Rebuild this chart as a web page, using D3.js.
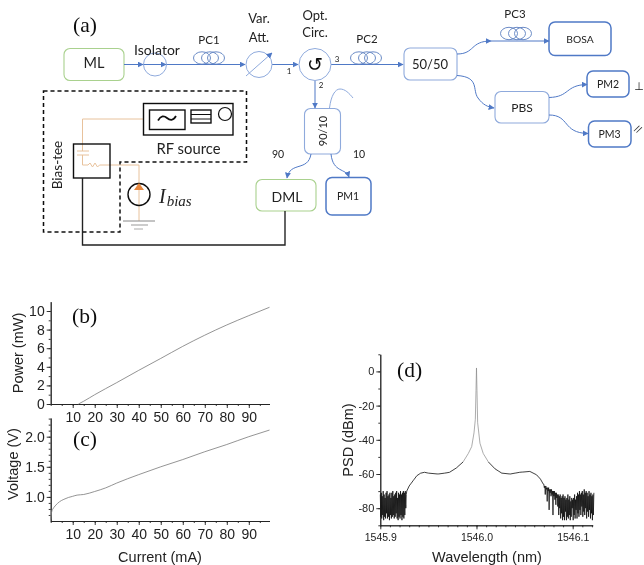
<!DOCTYPE html>
<html>
<head>
<meta charset="utf-8">
<script src="https://cdn.jsdelivr.net/npm/d3@7"></script>
<style>
  html, body { margin: 0; padding: 0; background: #fff; }
  text { fill: #222; }
  .diagram text { font-family: Lato, "Open Sans", sans-serif; }
  .panel-label { font-family: "Liberation Serif", serif; font-size: 21.5px; fill: #111; }
  .chart text { font-family: "Liberation Sans", Arial, sans-serif; }
</style>
</head>
<body>
<svg id="screen" width="644" height="565"></svg>
<script>
// (b) and (c)
const powerCurrent = [12.6, 15, 20, 30, 40, 50, 60, 70, 80, 90, 99.4];
const powerValues = [0, 0.3, 1.0, 2.3, 3.62, 4.9, 6.2, 7.4, 8.5, 9.5, 10.4];
const voltageCurrent = [0, 0.2, 0.5, 1, 2, 4, 6, 8, 10, 12, 15, 20, 25, 30, 40, 50, 60, 70, 80, 90, 99.4];
const voltageValues = [0.62, 0.7, 0.76, 0.8, 0.85, 0.92, 0.96, 0.99, 1.01, 1.03, 1.04, 1.09, 1.15, 1.23, 1.37, 1.5, 1.62, 1.75, 1.87, 2.0, 2.11];
const currentTicks = [10, 20, 30, 40, 50, 60, 70, 80, 90];
const powerTicks = [0, 2, 4, 6, 8, 10];
const voltageTicks = [1.0, 1.5, 2.0];

// (d) noisy wings, sampled every 0.0005 nm
const wingStep = 0.0005;
const leftWingStart = 1545.9;
const leftWing = [-72, -85, -71, -86, -73, -84, -70, -87, -72, -85, -74, -86, -71, -83, -70, -86, -73, -85, -72, -87,
  -71, -84, -74, -86, -71, -85, -70, -84, -73, -86, -72, -85, -71, -83, -70, -86, -74, -87, -71, -85,
  -72, -86, -70, -84, -72, -87, -71, -85, -70, -86, -71, -84, -70, -80, -72];
const rightWingStart = 1546.07;
const rightWing = [-66, -68, -67, -72, -67, -69, -68, -76, -68, -70, -68, -81, -69, -71, -69, -73, -69, -72, -70, -84,
  -70, -73, -70, -75, -71, -78, -71, -74, -72, -79,
  -72, -84, -73, -80, -72, -86, -74, -83, -73, -87, -72, -85, -74, -87, -73, -82, -75, -87, -74, -85,
  -72, -86, -75, -84, -73, -87, -76, -85, -74, -80, -75, -87, -74, -84, -72, -86, -75, -81, -73, -86,
  -71, -83, -72, -85, -70, -81, -72, -84, -71, -79, -70, -85, -72, -82, -69, -84, -71, -80, -70, -86,
  -71, -82, -73, -85, -70, -81, -72, -86, -71, -83, -73, -87, -72, -84, -71];
const leftShoulderWavelength = [1545.9275, 1545.93, 1545.934, 1545.938, 1545.942, 1545.946, 1545.95, 1545.96, 1545.967, 1545.972, 1545.979, 1545.986];
const leftShoulderValues = [-70, -67, -64, -61, -59.5, -59, -59.5, -60, -59.5, -59, -56.5, -53];
const peakWavelength = [1545.986, 1545.9915, 1545.995, 1545.9974, 1545.9988, 1545.9995, 1546.0, 1546.0005, 1546.0012, 1546.0036, 1546.007, 1546.0124];
const peakValues = [-53, -48, -44, -36, -28, -11, 2, -11, -30, -42, -48, -53];
const rightShoulderWavelength = [1546.0124, 1546.0193, 1546.0263, 1546.035, 1546.045, 1546.0555, 1546.0625, 1546.0665, 1546.0695];
const rightShoulderValues = [-53, -57, -59.5, -60, -59, -58.5, -60.5, -63, -66];
const wavelengthTicks = [1545.9, 1546.0, 1546.1];
const psdTicks = [0, -20, -40, -60, -80];

// (a) labels
const portLabels = ['1', '2', '3'];
const splitLabels = ['90', '10'];

const blue = '#5079c6';
const paleBlue = '#8faadc';
const green = '#a9d18e';
const orange = '#e8c29c';

const svg = d3.select('#screen');
const defs = svg.append('defs');
defs.append('filter').attr('id', 'soft')
  .append('feGaussianBlur').attr('stdDeviation', 0.4);
defs.append('marker')
  .attr('id', 'head')
  .attr('viewBox', '0 0 10 10')
  .attr('refX', 9)
  .attr('refY', 5)
  .attr('markerUnits', 'userSpaceOnUse')
  .attr('markerWidth', 6)
  .attr('markerHeight', 6)
  .attr('orient', 'auto')
  .append('polygon')
  .attr('points', '0,0 0,10 10,5')
  .attr('fill', blue);

const root = svg.append('g').attr('filter', 'url(#soft)');

// ---- schematic ----
const diagram = root.append('g').attr('class', 'diagram');

const box = (x, y, w, h, stroke, width = 1.1) => diagram.append('rect')
  .attr('x', x).attr('y', y).attr('width', w).attr('height', h)
  .attr('rx', 6)
  .attr('fill', 'none')
  .attr('stroke', stroke)
  .attr('stroke-width', width);

const label = (x, y, text, size) => diagram.append('text')
  .attr('x', x).attr('y', y)
  .attr('text-anchor', 'middle')
  .attr('dominant-baseline', 'central')
  .attr('font-size', size)
  .text(text);

const wire = (d, stroke = blue, width = 1, arrow = true) => {
  const path = diagram.append('path')
    .attr('d', d)
    .attr('fill', 'none')
    .attr('stroke', stroke)
    .attr('stroke-width', width);
  if (arrow) {
    path.attr('marker-end', 'url(#head)');
  }
  return path;
};

const coil = (x, y) => {
  for (const dx of [9, 17, 23]) {
    diagram.append('ellipse')
      .attr('cx', x + dx).attr('cy', y)
      .attr('rx', 8.5).attr('ry', 6.2)
      .attr('fill', 'none')
      .attr('stroke', '#5b7fc0')
      .attr('stroke-width', 0.9);
  }
};

const ring = (x, y, r, stroke = paleBlue, width = 1) => diagram.append('circle')
  .attr('cx', x).attr('cy', y).attr('r', r)
  .attr('fill', 'none')
  .attr('stroke', stroke)
  .attr('stroke-width', width);

box(64, 48.5, 60, 32, green);
box(256, 179.5, 60, 31.5, green);
box(404, 48, 53, 32, paleBlue);
box(495, 91.5, 54, 31.5, paleBlue);
box(304.5, 108.5, 36, 45.5, paleBlue);
box(549, 22, 62, 33.5, blue, 1.5);
box(587, 71, 42, 26, blue, 1.5);
box(588.5, 121, 42.5, 26, blue, 1.5);
box(326, 177.5, 45, 37.5, blue, 1.5);

wire('M124,64.5H143');
wire('M143,64.5H166');
wire('M166,64.5H245');
wire('M272,64.5H298');
wire('M331,64.5H403');
wire('M315,81V108');
wire('M457,54C475,54 470,41 491,41');
wire('M491,41H549');
wire('M457,75.5C480,77 472,90 478,98C483,105 488,107 494,108');
wire('M549,97.5C570,97 565,85 587,84.5');
wire('M549,115C570,115 562,133 588,133.5');
wire('M311,154C308,172 290,161 287,178');
wire('M331,154C333,173 346,168 349,177');
wire('M329.5,108C331,96 335,89 340,89C345,89 349,93 353,98', paleBlue, 1, false);

ring(155, 64.5, 11.5);
ring(259, 64.5, 13);
ring(315, 64.5, 16);
wire('M246,76L272,53', paleBlue);
coil(193, 58);
coil(350, 58);
coil(500, 33.5);

label(157, 49, 'Isolator', 14);
label(209, 39, 'PC1', 11.5);
label(259, 18, 'Var.', 13);
label(259, 37, 'Att.', 13);
label(315, 15, 'Opt.', 13);
label(315, 32, 'Circ.', 13);
label(367, 38, 'PC2', 11.5);
label(515, 13, 'PC3', 11.5);
label(94, 62, 'ML', 14.5);
label(430, 64, '50/50', 13);
label(522, 107, 'PBS', 12);
label(287, 196, 'DML', 14);
label(580, 39, 'BOSA', 10.3);
label(608, 84, 'PM2', 10.5);
label(609.5, 134, 'PM3', 10.5);
label(348, 196, 'PM1', 10.5);
label(289, 71, portLabels[0], 8);
label(321, 84.5, portLabels[1], 8);
label(337, 59, portLabels[2], 8);
label(278, 154, splitLabels[0], 10.5);
label(359, 154, splitLabels[1], 10.5);
label(0, 0, '90/10', 11).attr('transform', 'translate(322,131) rotate(-90)');
label(315, 64, '\u21BA', 19).style('font-family', '"DejaVu Sans"').style('fill', '#111');
label(639, 86, '\u22A5', 11).style('font-family', '"DejaVu Sans"');
label(0, 0, '//', 9).attr('transform', 'translate(638,129) rotate(28)').style('font-family', '"DejaVu Sans"');

// bias circuit
wire('M143.5,119H82.5V151M82.5,155V165H88l2,-2l2.5,4l2.5,-4l2.5,4l2,-2H139V221', orange, 1, false);
wire('M77,151H89M77,155H89', orange, 1, false);
diagram.append('path')
  .attr('d', 'M43.5,91H246.5V162H120V232H43.5Z')
  .attr('fill', 'none')
  .attr('stroke', '#111')
  .attr('stroke-width', 1.5)
  .attr('stroke-dasharray', '4 3');
for (const [x, y, w, h] of [[143.5, 103.5, 89.5, 31.5], [149.5, 110, 35.5, 19.5], [191, 110, 20, 13], [73.5, 144, 36.5, 34]]) {
  diagram.append('rect')
    .attr('x', x).attr('y', y).attr('width', w).attr('height', h)
    .attr('fill', 'none')
    .attr('stroke', '#111')
    .attr('stroke-width', 1.4);
}
wire('M191,114.5H211M191,119H211', '#111', 1, false);
ring(225, 114, 6.5, '#111', 1.2);
ring(139, 194.5, 11, '#111', 1.4);
diagram.append('polygon').attr('points', '139,183 134,190 144,190').attr('fill', '#e8873c');
wire('M158,120.5c3,-5 6,-5 9,-2.5s6,3 9,-2', '#111', 1.8, false);
wire('M123,221H155', '#888', 1, false);
wire('M131,225H148', '#999', 1, false);
wire('M134,229H143', '#aaa', 1, false);
wire('M82.5,178V245H285V211', '#222', 1.4, false);
label(188.5, 148, 'RF source', 14.8);
label(0, 0, 'Bias-tee', 13.5).attr('transform', 'translate(57,165) rotate(-90)');

const ibias = diagram.append('text')
  .attr('x', 159).attr('y', 203)
  .style('font-family', '"Liberation Serif", serif')
  .style('font-style', 'italic');
ibias.append('tspan').attr('font-size', 20).text('I');
ibias.append('tspan').attr('font-size', 15).attr('dy', 3).attr('dx', 1).text('bias');

// ---- charts ----
const drawAxis = (g, axis, size) => {
  g.call(axis);
  g.selectAll('text').attr('font-size', size).style('fill', '#222');
  g.selectAll('path, line').attr('stroke', '#222').attr('stroke-width', 0.9);
};

const chart = root.append('g').attr('class', 'chart');

const lineChart = ({xs, ys, xDomain, yDomain, xRange, yRange, xTicks, xMinor, yTicks, yMinor, yFormat}) => {
  const x = d3.scaleLinear().domain(xDomain).range(xRange);
  const y = d3.scaleLinear().domain(yDomain).range(yRange);
  const bottom = yRange[0];
  const left = xRange[0];
  const minorX = chart.append('g').attr('transform', `translate(0,${bottom})`);
  drawAxis(minorX, d3.axisBottom(x).tickValues(xMinor).tickSize(2).tickFormat('').tickSizeOuter(0), 1);
  const majorX = chart.append('g').attr('transform', `translate(0,${bottom})`);
  drawAxis(majorX, d3.axisBottom(x).tickValues(xTicks).tickSize(4).tickPadding(4).tickSizeOuter(0), 14);
  const minorY = chart.append('g').attr('transform', `translate(${left},0)`);
  drawAxis(minorY, d3.axisLeft(y).tickValues(yMinor).tickSize(2).tickFormat('').tickSizeOuter(0), 1);
  const majorY = chart.append('g').attr('transform', `translate(${left},0)`);
  drawAxis(majorY, d3.axisLeft(y).tickValues(yTicks).tickSize(4).tickPadding(2).tickFormat(yFormat).tickSizeOuter(0), 14);
  chart.append('path')
    .attr('d', d3.line().curve(d3.curveMonotoneX).x((d) => x(d)).y((d, i) => y(ys[i]))(xs))
    .attr('fill', 'none')
    .attr('stroke', '#888')
    .attr('stroke-width', 0.9);
};

const currentMinor = d3.range(0, 100, 5);

lineChart({
  xs: powerCurrent,
  ys: powerValues,
  xDomain: [0, 99.4],
  yDomain: [0, 11],
  xRange: [50.7, 269.5],
  yRange: [404, 301.7],
  xTicks: currentTicks,
  xMinor: currentMinor,
  yTicks: powerTicks,
  yMinor: d3.range(0, 11, 1),
  yFormat: d3.format('d')
});

lineChart({
  xs: voltageCurrent,
  ys: voltageValues,
  xDomain: [0, 99.4],
  yDomain: [0.6, 2.31],
  xRange: [50.7, 269.5],
  yRange: [521, 418],
  xTicks: currentTicks,
  xMinor: currentMinor,
  yTicks: voltageTicks,
  yMinor: d3.range(0.7, 2.31, 0.1),
  yFormat: d3.format('.1f')
});

// spectrum
const psdEnd = 1546.1208;
const psdX = d3.scaleLinear().domain([1545.9, psdEnd]).range([380.3, 592.7]);
const psdY = d3.scaleLinear().domain([-90, 10]).range([525.3, 354.3]);
const psdLine = d3.line().x((d) => psdX(d[0])).y((d) => psdY(d[1]));

const wingsAndShoulders = [
  [
    ...leftWing.map((v, i) => [leftWingStart + i * wingStep, v]),
    ...leftShoulderWavelength.map((w, i) => [w, leftShoulderValues[i]])
  ],
  [
    ...rightShoulderWavelength.map((w, i) => [w, rightShoulderValues[i]]),
    ...rightWing.map((v, i) => [rightWingStart + i * wingStep, v])
  ]
];

drawAxis(chart.append('g').attr('transform', 'translate(0,525.3)'),
  d3.axisBottom(psdX).tickValues(d3.range(1545.9, psdEnd, 0.01)).tickSize(2).tickFormat('').tickSizeOuter(0), 1);
drawAxis(chart.append('g').attr('transform', 'translate(0,525.3)'),
  d3.axisBottom(psdX).tickValues(wavelengthTicks).tickSize(4).tickPadding(4).tickFormat(d3.format('.1f')).tickSizeOuter(0), 10.5);
drawAxis(chart.append('g').attr('transform', 'translate(380.3,0)'),
  d3.axisLeft(psdY).tickValues(d3.range(-90, 11, 10)).tickSize(2).tickFormat('').tickSizeOuter(0), 1);
drawAxis(chart.append('g').attr('transform', 'translate(380.3,0)'),
  d3.axisLeft(psdY).tickValues(psdTicks).tickSize(4).tickPadding(2).tickFormat((d) => String(d)).tickSizeOuter(0), 11);

for (const part of wingsAndShoulders) {
  chart.append('path')
    .attr('d', psdLine(part))
    .attr('fill', 'none')
    .attr('stroke', '#111')
    .attr('stroke-width', 0.8);
}
chart.append('path')
  .attr('d', psdLine(peakWavelength.map((w, i) => [w, peakValues[i]])))
  .attr('fill', 'none')
  .attr('stroke', '#888')
  .attr('stroke-width', 0.7);

// axis titles
const title = (x, y, text, angle = 0) => chart.append('text')
  .attr('transform', `translate(${x},${y}) rotate(${angle})`)
  .attr('text-anchor', 'middle')
  .attr('font-size', 14.5)
  .text(text);
title(23, 353, 'Power (mW)', -90);
title(18, 464, 'Voltage (V)', -90);
title(160, 562, 'Current (mA)');
title(353, 440, 'PSD (dBm)', -90);
title(487, 562, 'Wavelength (nm)');

// panel letters
const panels = [['(a)', 73, 32], ['(b)', 72, 323], ['(c)', 73, 446], ['(d)', 397, 377]];
for (const [text, x, y] of panels) {
  root.append('text').attr('class', 'panel-label').attr('x', x).attr('y', y).text(text);
}
</script>
</body>
</html>
